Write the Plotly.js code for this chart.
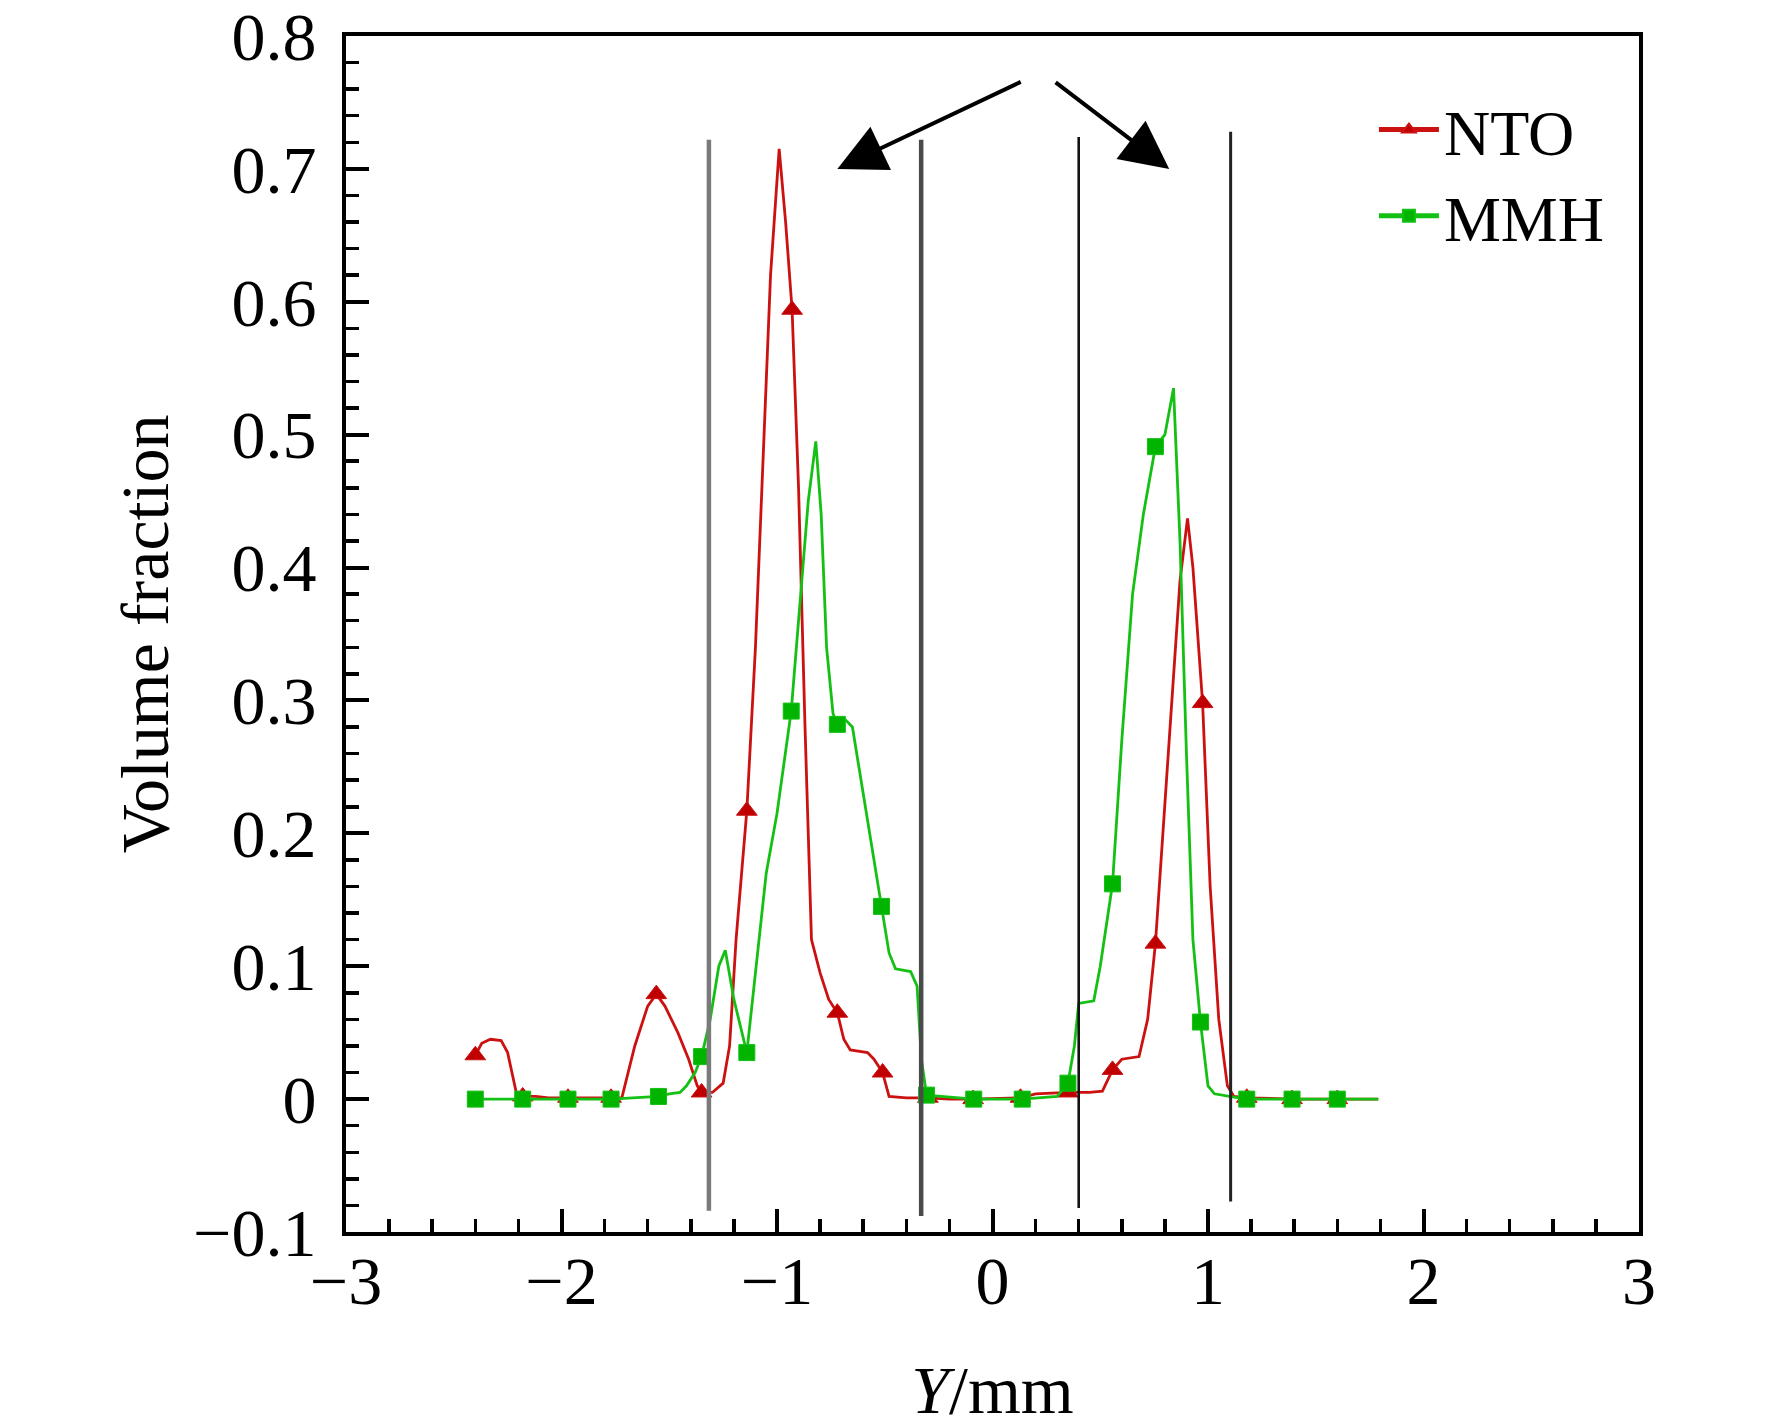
<!DOCTYPE html>
<html>
<head>
<meta charset="utf-8">
<script src="https://cdn.plot.ly/plotly-3.0.1.min.js"></script>
<style>
    html, body { margin: 0; padding: 0; background: #fff; }
    #chart { width: 1772px; height: 1428px; }
</style>
</head>
<body>
<div id="chart"></div>
<script>
// NTO curve (Y in mm, volume fraction)
const ntoX = [-2.40, -2.37, -2.33, -2.28, -2.25, -2.21, -2.18, -2.12, -2.06, -1.97, -1.86, -1.77, -1.72,
    -1.66, -1.60, -1.56, -1.52, -1.46, -1.41, -1.37, -1.35, -1.30, -1.25, -1.22, -1.19, -1.14,
    -1.10, -1.06, -1.03, -0.99, -0.96, -0.93, -0.90, -0.87, -0.84, -0.80, -0.76, -0.72, -0.69,
    -0.66, -0.58, -0.55, -0.51, -0.48, -0.40, -0.30, -0.20, -0.09, 0.13, 0.20, 0.35, 0.45, 0.51,
    0.557, 0.60, 0.68, 0.72, 0.756, 0.79, 0.83, 0.87, 0.905, 0.93, 0.975, 1.01, 1.05, 1.09, 1.12,
    1.18, 1.39, 1.60, 1.79];
const ntoY = [0.033, 0.042, 0.045, 0.044, 0.035, 0.005, 0.002, 0.002, 0.001, 0.001, 0.001, 0.001, 0.001,
    0.040, 0.070, 0.079, 0.070, 0.050, 0.030, 0.010, 0.005, 0.005, 0.012, 0.040, 0.120, 0.217,
    0.340, 0.500, 0.620, 0.715, 0.660, 0.594, 0.460, 0.280, 0.120, 0.095, 0.075, 0.065, 0.045,
    0.037, 0.035, 0.030, 0.020, 0.002, 0.001, 0.001, 0.000, 0.000, 0.001, 0.004, 0.005, 0.005, 0.006,
    0.022, 0.030, 0.032, 0.060, 0.117, 0.200, 0.300, 0.390, 0.437, 0.400, 0.298, 0.160, 0.060, 0.010, 0.002,
    0.001, 0.000, 0.000, 0.000];
// positions along the curve that carry a triangle symbol
const ntoMarkX = [-2.40, -2.18, -1.97, -1.77, -1.56, -1.35, -1.14, -0.93, -0.72, -0.51, -0.30, -0.09,
    0.13, 0.35, 0.557, 0.756, 0.975, 1.18, 1.39, 1.60];

// MMH curve
const mmhX = [-2.40, -2.18, -1.97, -1.77, -1.55, -1.50, -1.45, -1.42, -1.38, -1.35, -1.31, -1.27, -1.24,
    -1.20, -1.14, -1.09, -1.05, -1.00, -0.934, -0.89, -0.855, -0.82, -0.795, -0.77, -0.74, -0.72,
    -0.68, -0.65, -0.61, -0.57, -0.515, -0.48, -0.45, -0.38, -0.35, -0.33, -0.306, -0.087, 0.138,
    0.30, 0.35, 0.38, 0.40, 0.47, 0.50, 0.557, 0.60, 0.65, 0.70, 0.756, 0.80, 0.84, 0.87, 0.90,
    0.93, 0.965, 1.00, 1.03, 1.10, 1.18, 1.39, 1.60, 1.79];
const mmhY = [0.000, 0.000, 0.000, 0.000, 0.002, 0.004, 0.005, 0.010, 0.020, 0.032, 0.060, 0.100, 0.112,
    0.075, 0.035, 0.110, 0.170, 0.215, 0.292, 0.380, 0.450, 0.495, 0.440, 0.340, 0.290, 0.282,
    0.285, 0.280, 0.240, 0.200, 0.145, 0.110, 0.098, 0.096, 0.085, 0.030, 0.003, 0.000, 0.000,
    0.002, 0.012, 0.040, 0.072, 0.074, 0.100, 0.162, 0.270, 0.380, 0.440, 0.491, 0.500, 0.535, 0.420, 0.260,
    0.120, 0.058, 0.010, 0.004, 0.002, 0.000, 0.000, 0.000, 0.000];
const mmhMarkX = [-2.40, -2.18, -1.97, -1.77, -1.55, -1.35, -1.14, -0.934, -0.72, -0.515, -0.306, -0.087,
    0.138, 0.35, 0.557, 0.756, 0.965, 1.18, 1.39, 1.60];

// vertical boundary lines and the two arrows (from -> to)
const boundaryX = [-1.316, -0.331, 0.40, 1.105];
const arrowFrom = [[0.138, 0.766], [0.286, 0.766]];
const arrowTo = [[-0.72, 0.700], [0.82, 0.700]];

const FONT = '"Liberation Serif", "Times New Roman", serif';

function markerSizes(xs, marks, size) {
    return xs.map(x => marks.some(m => Math.abs(m - x) < 1e-6) ? size : 0);
}

const traces = [
    {
        x: ntoX, y: ntoY, name: 'NTO',
        type: 'scatter', mode: 'lines+markers',
        line: { color: '#cc1111', width: 2.8 },
        marker: { symbol: 'triangle-up', color: '#c00000', opacity: 1, size: markerSizes(ntoX, ntoMarkX, 18) },
    },
    {
        x: mmhX, y: mmhY, name: 'MMH',
        type: 'scatter', mode: 'lines+markers',
        line: { color: '#15c015', width: 2.8 },
        marker: { symbol: 'square', color: '#00b400', opacity: 1, size: markerSizes(mmhX, mmhMarkX, 16) },
    },
];

const shapeColors = ['#7a7a7a', '#4a4a4a', '#111111', '#222222'];
const shapeWidths = [4.5, 4.5, 2.6, 3];
const shapeTop = [0.722, 0.722, 0.724, 0.728];
const shapeBottom = [-0.084, -0.088, -0.082, -0.077];

const shapes = boundaryX.map((x, i) => ({
    type: 'line', xref: 'x', yref: 'y',
    x0: x, x1: x, y0: shapeBottom[i], y1: shapeTop[i],
    line: { color: shapeColors[i], width: shapeWidths[i] },
}));

const annotations = arrowFrom.map((from, i) => ({
    x: arrowTo[i][0], y: arrowTo[i][1],
    ax: from[0], ay: from[1],
    xref: 'x', yref: 'y', axref: 'x', ayref: 'y',
    text: '', showarrow: true,
    arrowhead: 2, arrowsize: 2.4, arrowwidth: 4, arrowcolor: '#000',
}));

const axisCommon = {
    showline: true, mirror: true, linecolor: '#000', linewidth: 4,
    ticks: 'inside', ticklen: 23, tickwidth: 4, tickcolor: '#000',
    showgrid: false, zeroline: false,
    ticklabeloverflow: 'allow',
    tickfont: { family: FONT, size: 68, color: '#000' },
};

const layout = {
    width: 1772, height: 1428,
    paper_bgcolor: '#fff', plot_bgcolor: '#fff',
    margin: { l: 346, r: 133, t: 36, b: 196, autoexpand: false },
    showlegend: true,
    legend: {
        x: 0.795, y: 0.962, xanchor: 'left', yanchor: 'top',
        font: { family: FONT, size: 64, color: '#000' },
        bgcolor: 'rgba(0,0,0,0)', itemwidth: 60,
        itemsizing: 'constant',
    },
    xaxis: {
        ...axisCommon,
        range: [-3, 3], dtick: 1, tick0: -3,
        ticklabelstandoff: -14,
        minor: { dtick: 0.2, ticks: 'inside', ticklen: 13, tickwidth: 3.5, tickcolor: '#000' },
        title: { text: '<i>Y</i>/mm', font: { family: FONT, size: 68, color: '#000' }, standoff: 58 },
    },
    yaxis: {
        ...axisCommon,
        range: [-0.1, 0.8], dtick: 0.1, tick0: 0,
        ticklabelstandoff: 12,
        minor: { dtick: 0.02, ticks: 'inside', ticklen: 13, tickwidth: 3.5, tickcolor: '#000' },
        title: { text: 'Volume fraction', font: { family: FONT, size: 68, color: '#000' }, standoff: 3 },
    },
    shapes: shapes,
    annotations: annotations,
};

Plotly.newPlot('chart', traces, layout, { staticPlot: true });
</script>
</body>
</html>
